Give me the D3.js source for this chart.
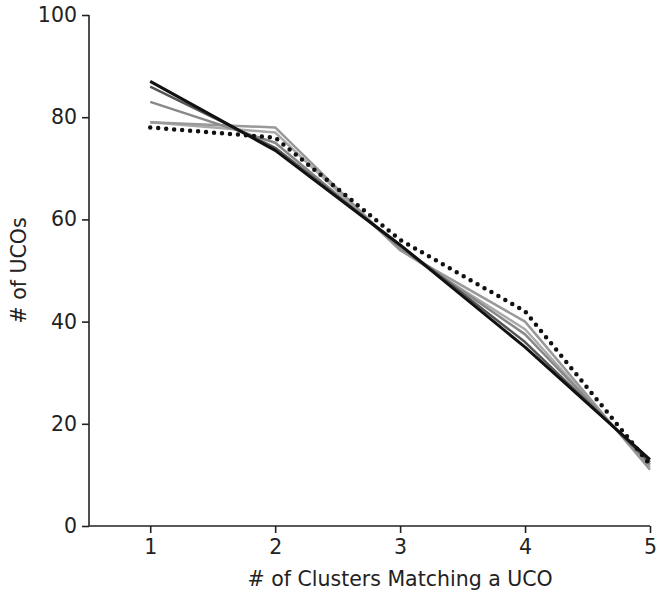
<!DOCTYPE html>
<html>
<head>
<meta charset="utf-8">
<script src="https://cdn.jsdelivr.net/npm/d3@7"></script>
<style>
  body { margin: 0; background: #fff; }
  .canvas text { font-family: "DejaVu Sans", sans-serif; fill: #222; }
</style>
</head>
<body>
<div class="canvas"></div>
<script>
// x categories and tick labels
const clusters = [1, 2, 3, 4, 5];
const yTicks = [0, 20, 40, 60, 80, 100];

// series values
const blackLine = [87, 73.5, 55, 35, 13];
const darkLine = [86, 74, 55, 36, 12.5];
const midLine = [83, 75, 54.5, 37.5, 12];
const lightLineA = [79, 78, 54, 40, 11];
const lightLineB = [79, 77, 54, 38.5, 11.5];
const dottedLine = [78, 76, 56, 42, 12];

const series = [
  { name: 'lightB', values: lightLineB, color: '#aaa', width: 2.5, dash: null },
  { name: 'lightA', values: lightLineA, color: '#999', width: 2.5, dash: null },
  { name: 'mid', values: midLine, color: '#888', width: 2.5, dash: null },
  { name: 'dark', values: darkLine, color: '#555', width: 2.5, dash: null },
  { name: 'black', values: blackLine, color: '#111', width: 3, dash: null },
  { name: 'dotted', values: dottedLine, color: '#111', width: 4.5, dash: '0 8' }
];

const dims = { width: 656, height: 596 };
const margin = { left: 89, right: 6, top: 15, bottom: 70 };

const svg = d3.select('.canvas')
  .append('svg')
  .attr('width', dims.width)
  .attr('height', dims.height);

const x = d3.scaleLinear()
  .domain([0.51, 5])
  .range([margin.left, dims.width - margin.right]);

const y = d3.scaleLinear()
  .domain([0, 100])
  .range([dims.height - margin.bottom, margin.top]);

// axes
const xAxis = svg.append('g')
  .attr('transform', `translate(0, ${y(0)})`)
  .call(d3.axisBottom(x).tickValues(clusters).tickFormat(d3.format('d')).tickSize(7).tickPadding(6));

const yAxis = svg.append('g')
  .attr('transform', `translate(${x(0.51)}, 0)`)
  .call(d3.axisLeft(y).tickValues(yTicks).tickSize(7).tickPadding(5));

[xAxis, yAxis].forEach(ax => {
  ax.select('.domain').attr('stroke', '#222').attr('stroke-width', 1.6);
  ax.selectAll('.tick line').attr('stroke', '#222').attr('stroke-width', 1.6);
  ax.selectAll('.tick text').attr('font-size', 20.5).attr('fill', '#222')
    .attr('font-family', '"DejaVu Sans", sans-serif');
});
// d3 draws the domain with outer ticks; flatten them
xAxis.select('.domain').attr('d', `M${x(0.51)},0H${x(5)}`);
yAxis.select('.domain').attr('d', `M0,${y(0)}V${y(100)}`);

// lines
const line = d3.line()
  .x((d, i) => x(clusters[i]))
  .y(d => y(d));

svg.append('g')
  .selectAll('path')
  .data(series)
  .enter()
  .append('path')
  .attr('d', d => line(d.values))
  .attr('fill', 'none')
  .attr('stroke', d => d.color)
  .attr('stroke-width', d => d.width)
  .attr('stroke-linecap', d => d.dash ? 'round' : 'butt')
  .attr('stroke-linejoin', 'round')
  .attr('stroke-dasharray', d => d.dash);

// axis titles
svg.append('text')
  .attr('x', x(3))
  .attr('y', 586)
  .attr('text-anchor', 'middle')
  .attr('font-size', 20.5)
  .text('# of Clusters Matching a UCO');

svg.append('text')
  .attr('transform', `translate(26, ${y(50)}) rotate(-90)`)
  .attr('text-anchor', 'middle')
  .attr('font-size', 20.5)
  .text('# of UCOs');
</script>
</body>
</html>
